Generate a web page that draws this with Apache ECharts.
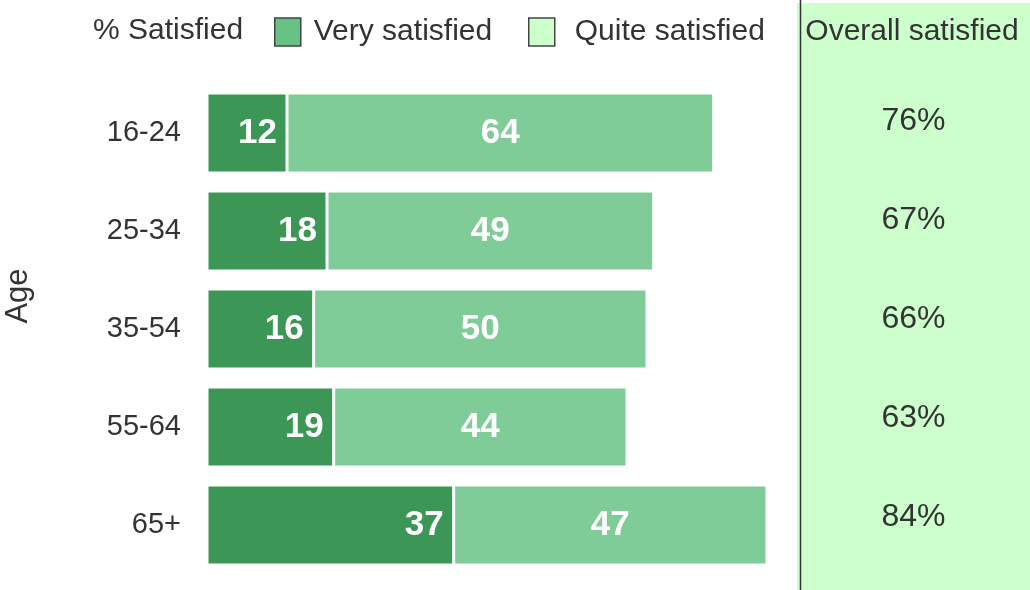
<!DOCTYPE html>
<html>
<head>
<meta charset="utf-8">
<script src="https://cdn.jsdelivr.net/npm/echarts@6/dist/echarts.min.js"></script>
<style>
  html, body { margin: 0; padding: 0; background: #ffffff; }
  #chart { width: 1030px; height: 590px; }
</style>
</head>
<body>
<div id="chart"></div>
<script>
// Age groups (top to bottom)
const ageGroups = ['16-24', '25-34', '35-54', '55-64', '65+'];
// % very satisfied / quite satisfied per age group
const verySatisfied = [12, 18, 16, 19, 37];
const quiteSatisfied = [64, 49, 50, 44, 47];
// % overall satisfied per age group
const overallSatisfied = [76, 67, 66, 63, 84];

const FONT = '"Liberation Sans", Arial, sans-serif';
const TEXT = '#333333';

const chart = echarts.init(document.getElementById('chart'), null, { renderer: 'canvas' });

chart.setOption({
  animation: false,
  backgroundColor: '#ffffff',
  textStyle: { fontFamily: FONT },
  title: [
    { text: '% Satisfied', left: 93, top: 16, padding: 0,
      textStyle: { fontFamily: FONT, fontSize: 30, fontWeight: 'normal', color: TEXT } },
    { text: 'Overall satisfied', left: 912, top: 17, padding: 0, textAlign: 'center',
      textStyle: { fontFamily: FONT, fontSize: 30, fontWeight: 'normal', color: TEXT }, z: 10 }
  ],
  legend: [
    {
      left: 274, top: 17, itemWidth: 26, itemHeight: 28, padding: 0,
      selectedMode: false,
      data: [{ name: 'Very satisfied', icon: 'rect',
        itemStyle: { color: '#66c285', borderColor: '#444444', borderWidth: 1.5 } }],
      textStyle: { fontFamily: FONT, fontSize: 30, color: TEXT, padding: [0, 0, 0, 8] }
    },
    {
      left: 528, top: 17, itemWidth: 26, itemHeight: 28, padding: 0,
      selectedMode: false,
      data: [{ name: 'Quite satisfied', icon: 'rect',
        itemStyle: { color: '#ccffcc', borderColor: '#444444', borderWidth: 1.5 } }],
      textStyle: { fontFamily: FONT, fontSize: 30, color: TEXT, padding: [0, 0, 0, 15] }
    }
  ],
  graphic: [
    { type: 'rect', z: -10, silent: true,
      shape: { x: 797, y: 3, width: 240, height: 600 },
      style: { fill: '#ccffcc' } },
    { type: 'line', z: 5, silent: true,
      shape: { x1: 800.5, y1: 0, x2: 800.5, y2: 590 },
      style: { stroke: '#333333', lineWidth: 1.5 } },
    // vertical axis title
    { type: 'text', silent: true, x: 18, y: 296, rotation: Math.PI / 2,
      style: { text: 'Age', fill: TEXT, font: '31px "Liberation Sans", Arial, sans-serif',
        align: 'center', verticalAlign: 'middle' } }
  ],
  grid: [
    { left: 207, top: 84, width: 560, height: 490, outerBoundsMode: 'none', containLabel: false },
    { left: 797, top: 72, right: 0, height: 495, outerBoundsMode: 'none', containLabel: false }
  ],
  xAxis: [
    { gridIndex: 0, type: 'value', min: 0, max: 84, show: false },
    { gridIndex: 1, type: 'value', min: 0, max: 1, show: false }
  ],
  yAxis: [
    {
      gridIndex: 0, type: 'category', data: ageGroups, inverse: true,
      axisLine: { show: false }, axisTick: { show: false }, splitLine: { show: false },
      axisLabel: { fontFamily: FONT, fontSize: 29, color: TEXT, margin: 26 }
    },
    { gridIndex: 1, type: 'category', data: ageGroups, inverse: true, show: false }
  ],
  series: [
    {
      name: 'Very satisfied', type: 'bar', stack: 'sat', xAxisIndex: 0, yAxisIndex: 0,
      data: verySatisfied, barWidth: 80,
      itemStyle: { color: '#3c9656', borderColor: '#ffffff', borderWidth: 1.5 },
      label: { show: true, position: 'insideRight', distance: 10, color: '#ffffff',
        fontFamily: FONT, fontSize: 35, fontWeight: 'bold' }
    },
    {
      name: 'Quite satisfied', type: 'bar', stack: 'sat', xAxisIndex: 0, yAxisIndex: 0,
      data: quiteSatisfied, barWidth: 80,
      itemStyle: { color: '#80cc99', borderColor: '#ffffff', borderWidth: 1.5 },
      label: { show: true, position: 'inside', color: '#ffffff',
        fontFamily: FONT, fontSize: 35, fontWeight: 'bold' }
    },
    {
      name: 'Overall satisfied', type: 'scatter', xAxisIndex: 1, yAxisIndex: 1,
      symbolSize: 0, silent: true,
      itemStyle: { opacity: 1 },
      data: overallSatisfied.map((v, i) => [0.5, ageGroups[i], v]),
      encode: { x: 0, y: 1 },
      label: { show: true, position: 'inside', color: TEXT, opacity: 1,
        fontFamily: FONT, fontSize: 32,
        formatter: p => p.value[2] + '%' }
    }
  ]
});
</script>
</body>
</html>
